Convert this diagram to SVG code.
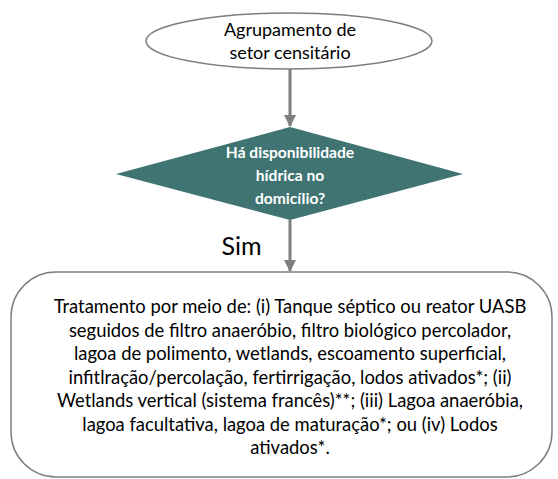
<svg xmlns="http://www.w3.org/2000/svg" width="558" height="479" viewBox="0 0 558 479">
<style>
.t{font-family:Lato,"Liberation Sans",sans-serif;fill:#000;text-anchor:middle}
.el{font-size:18px}
.box{font-size:18.4px}
.d{font-family:Lato,"Liberation Sans",sans-serif;fill:#fff;font-weight:bold;font-size:15.6px;text-anchor:middle}
.c{stroke:#7f7f7f;stroke-width:3;fill:none}
</style>
<defs>
<marker id="ah" markerWidth="12" markerHeight="12" viewBox="0 0 12 12" refX="11" refY="6" orient="auto" markerUnits="userSpaceOnUse">
<path d="M0,0 L12,6 L0,12 Z" fill="#7f7f7f"/>
</marker>
</defs>
<rect width="558" height="479" fill="#fff"/>
<g id="connectors">
<line class="c" x1="290" y1="69" x2="290" y2="126" marker-end="url(#ah)"/>
<line class="c" x1="290" y1="220" x2="290" y2="271" marker-end="url(#ah)"/>
<text class="t" x="241.5" y="255" style="font-size:25px">Sim</text>
</g>
<g id="start">
<ellipse cx="289" cy="41" rx="143" ry="28" fill="#fff" stroke="#7f7f7f" stroke-width="1.5"/>
<text class="t el" x="290" y="36">Agrupamento de</text>
<text class="t el" x="290" y="59">setor censitário</text>
</g>
<g id="decision">
<polygon points="290,127 463,174 290,220 116,174" fill="#3f7473"/>
<text class="d" x="290" y="158">Há disponibilidade</text>
<text class="d" x="290" y="181">hídrica no</text>
<text class="d" x="290" y="204">domicílio?</text>
</g>
<g id="treatment">
<rect x="11" y="272" width="541" height="205" rx="45" ry="45" fill="#fff" stroke="#7f7f7f" stroke-width="1.5"/>
<text class="t box" x="290" y="313">Tratamento por meio de: (i) Tanque séptico ou reator UASB</text>
<text class="t box" x="290" y="336.5">seguidos de filtro anaeróbio, filtro biológico percolador,</text>
<text class="t box" x="290" y="360">lagoa de polimento, wetlands, escoamento superficial,</text>
<text class="t box" x="290" y="383.5">infitlração/percolação, fertirrigação, lodos ativados*; (ii)</text>
<text class="t box" x="290" y="407">Wetlands vertical (sistema francês)**; (iii) Lagoa anaeróbia,</text>
<text class="t box" x="290" y="430.5">lagoa facultativa, lagoa de maturação*; ou (iv) Lodos</text>
<text class="t box" x="290" y="454">ativados*.</text>
</g>
</svg>
